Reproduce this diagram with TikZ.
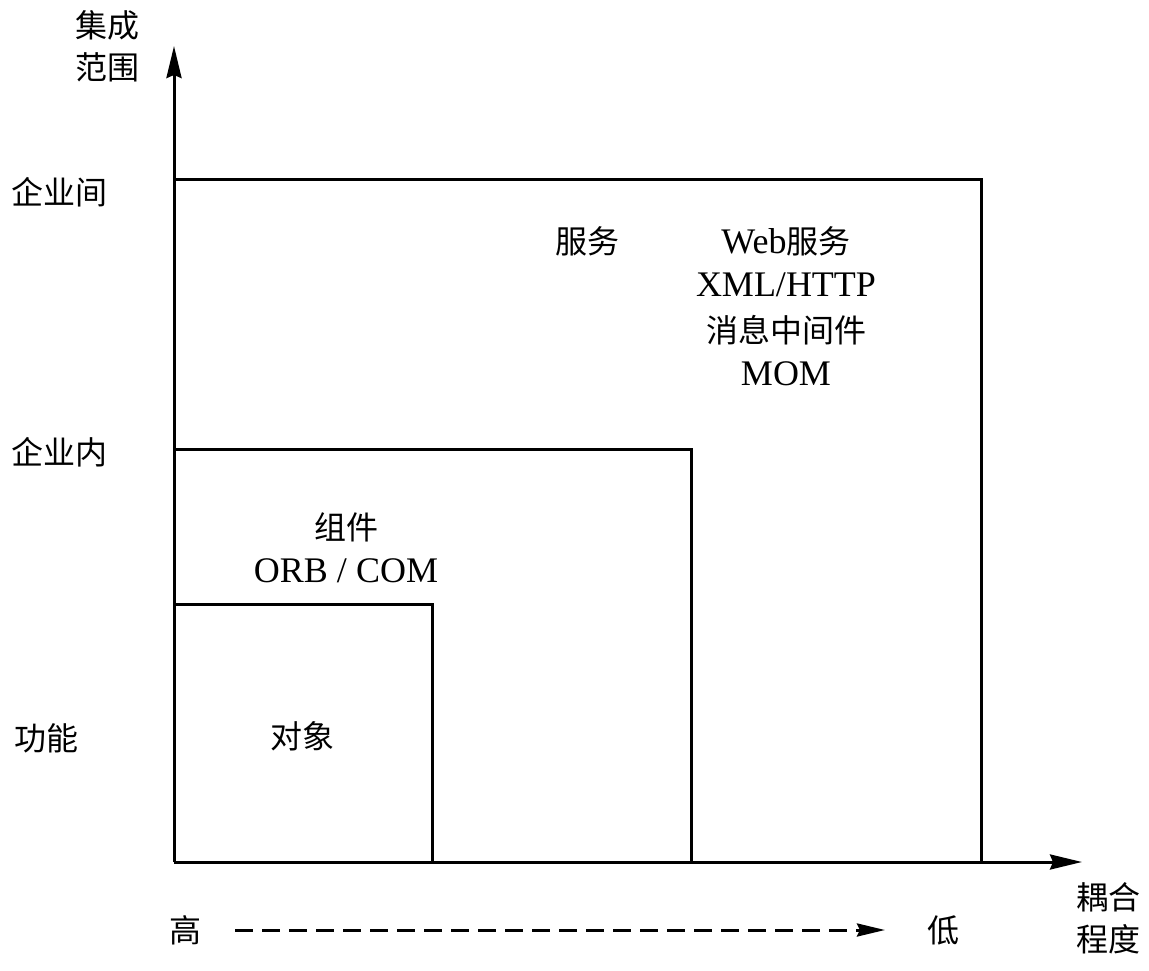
\documentclass[tikz,border=0pt]{standalone}
\usepackage{fontspec}
\setmainfont{Liberation Serif}
\newfontfamily\cjk{Noto Sans CJK SC}
\usetikzlibrary{arrows.meta}
\begin{document}
\begin{tikzpicture}[x=1pt,y=-1pt,
  axis/.style={line width=3pt,-{Stealth[length=32pt,width=15pt,inset=3pt]}},
  frame/.style={line width=3pt},
  zh/.style={font=\cjk\fontsize{32}{42}\selectfont,inner sep=0pt,align=center},
  en/.style={font=\fontsize{36}{44}\selectfont,inner sep=0pt,align=center}]
\useasboundingbox (0,0) rectangle (1149,971);
\coordinate (O) at (174,862);
\coordinate (ytip) at (174,46);
\coordinate (xtip) at (1082,862);
\draw[frame] (O) -- (174,180) -- (981,180) -- (981,862);
\draw[frame] (174,449) -- (691,449) -- (691,862);
\draw[frame] (174,604) -- (432,604) -- (432,862);
\draw[axis] (O) -- (ytip);
\draw[axis] (O) -- (xtip);
\node[zh] (yl) at (107,46) {集成\\范围};
\node[zh] (e1) at (60,192) {企业间};
\node[zh] (e2) at (60,452) {企业内};
\node[zh] (f) at (46,738) {功能};
\node[zh] (fw) at (587,241) {服务};
\node[en] (web) at (786,241) {Web{\cjk\fontsize{32}{38}\selectfont 服务}};
\node[en] (xml) at (786,285) {XML/HTTP};
\node[zh] (mq) at (786,330) {消息中间件};
\node[en] (mom) at (786,374) {MOM};
\node[zh] (zj) at (346,527) {组件};
\node[en] (orb) at (346,571) {ORB / COM};
\node[zh] (dx) at (302,736) {对象};
\node[zh] (hi) at (185,930) {高};
\node[zh] (lo) at (943,930) {低};
\node[zh] (xl) at (1108,918) {耦合\\程度};
\draw[line width=3pt,dash pattern=on 18pt off 9pt,-{Stealth[length=28pt,width=13pt,inset=3pt]}] (235,930) -- (885,930);
\end{tikzpicture}
\end{document}
